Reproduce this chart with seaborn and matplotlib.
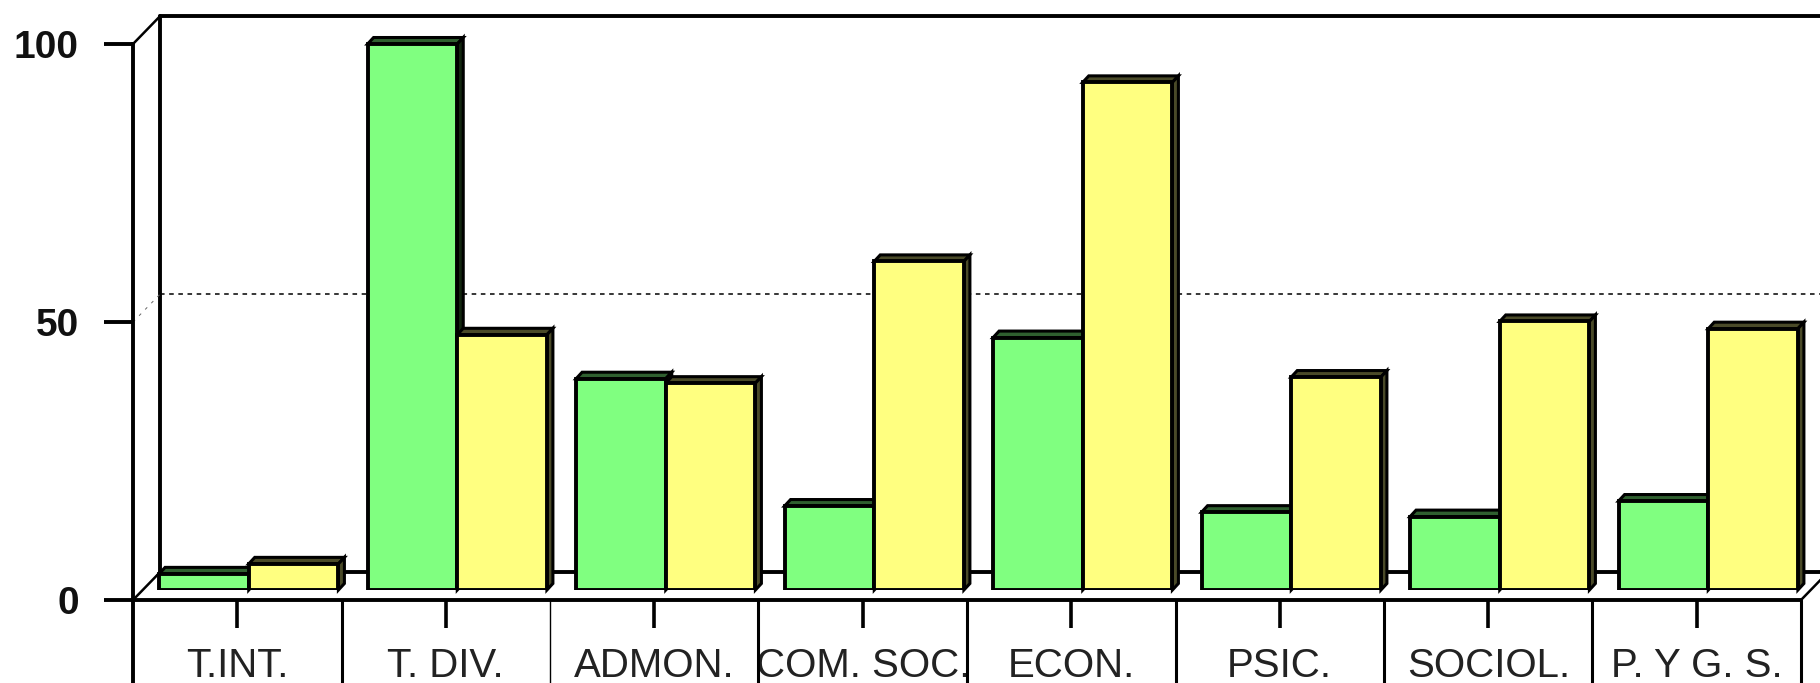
import matplotlib
matplotlib.use("Agg")
import matplotlib.pyplot as plt
import pandas as pd
import seaborn as sns
from matplotlib.patches import Polygon

categories = ["T.INT.", "T. DIV.", "ADMON.", "COM. SOC.", "ECON.", "PSIC.", "SOCIOL.", "P. Y G. S."]
green_values = [2.9, 98.2, 38.0, 15.1, 45.4, 14.0, 13.2, 16.0]
yellow_values = [4.7, 45.9, 37.2, 59.1, 91.3, 38.3, 48.3, 47.0]
series_names = ["A", "B"]
y_ticks = [0, 50, 100]

W, H = 1820, 683
GREEN = "#80FF80"
YELLOW = "#FFFF80"

sns.set_theme(style="white")
plt.rcParams["font.family"] = ["Liberation Sans", "DejaVu Sans"]

df = pd.DataFrame({
    "cat": categories * 2,
    "serie": [series_names[0]] * 8 + [series_names[1]] * 8,
    "val": green_values + yellow_values,
})

fig = plt.figure(figsize=(W / 100, H / 100), dpi=100, facecolor="white")


def box(left, right, top, bottom):
    return [left / W, (H - bottom) / H, (right - left) / W, (bottom - top) / H]


# front axis with the ticks and labels, walls of the box behind the bars
ax = fig.add_axes(box(133, 1801, 44, 600))
ax.set_xlim(-0.5, 7.5)
ax.set_ylim(0, 100)
ax.patch.set_alpha(0)
for s in ["top", "right"]:
    ax.spines[s].set_visible(False)
for s in ["left", "bottom"]:
    ax.spines[s].set_color("black")
    ax.spines[s].set_linewidth(2.8)

ax.set_yticks(y_ticks)
ax.set_yticklabels([str(t) for t in y_ticks], fontsize=28, fontweight="bold", color="#111111")
ax.tick_params(axis="y", left=True, length=21, width=2.8, color="black", pad=18)
ax.set_xticks(range(8))
ax.set_xticklabels(categories, fontsize=29, color="#222222")
ax.set_xticks([i - 0.5 for i in range(1, 9)], minor=True)
ax.tick_params(axis="x", which="major", bottom=True, length=20, width=2.6, color="black", pad=14)
ax.tick_params(axis="x", which="minor", bottom=True, length=62, width=2.2, color="black")
ax.xaxis.get_minor_ticks()[1].tick1line.set_markeredgewidth(1.0)

depth_x = 27 / 208.5
depth_y = 5
lw_wall = 2.8
ax.plot([-0.5, -0.5 + depth_x], [100, 100 + depth_y], color="black", lw=1.8, clip_on=False)
ax.plot([-0.5, -0.5 + depth_x], [0, depth_y], color="black", lw=1.8, clip_on=False)
ax.plot([7.5, 7.5 + depth_x], [0, depth_y], color="black", lw=1.8, clip_on=False)
ax.plot([-0.5 + depth_x] * 2, [depth_y, 100 + depth_y], color="black", lw=lw_wall, clip_on=False)
ax.plot([-0.5 + depth_x, 7.5 + depth_x], [100 + depth_y] * 2, color="black", lw=lw_wall, clip_on=False)
ax.plot([-0.5 + depth_x, 7.5 + depth_x], [depth_y] * 2, color="black", lw=lw_wall, clip_on=False)
ax.plot([-0.5 + depth_x, 7.5 + depth_x], [50 + depth_y] * 2, color="black", lw=1.1, ls=(0, (3, 3)), clip_on=False)
ax.plot([-0.5, -0.5 + depth_x], [50, 50 + depth_y], color="#666666", lw=0.7, ls=(0, (3, 6)), clip_on=False)
# the left axis carries on under the baseline
ax.plot([-0.5, -0.5], [0, -15], color="black", lw=2.8, clip_on=False)

# bars sit a little further back than the front axis
ax_bars = fig.add_axes(box(144.5, 1812.5, 34, 590))
ax_bars.patch.set_alpha(0)
sns.barplot(
    data=df, x="cat", y="val", hue="serie", order=categories, hue_order=series_names,
    palette=[GREEN, YELLOW], width=0.86, gap=0, dodge=True, edgecolor="black",
    linewidth=2.8, saturation=1, legend=False, errorbar=None, ax=ax_bars, zorder=3,
)
ax_bars.set_xlim(-0.5, 7.5)
ax_bars.set_ylim(0, 100)
ax_bars.axis("off")

off_x = 6 / 208.5
off_y = 6.5 / 5.56
top_colors = {GREEN: "#2F5F2F", YELLOW: "#4A4A28"}
side_colors = {GREEN: "#12260F", YELLOW: "#4A4A28"}
for i, p in enumerate(ax_bars.patches[:16]):
    x0, x1 = p.get_x(), p.get_x() + p.get_width()
    h = p.get_height()
    col = GREEN if i < 8 else YELLOW
    top = [(x0, h), (x0 + off_x, h + off_y), (x1 + off_x, h + off_y), (x1, h)]
    side = [(x1, 0), (x1 + off_x, off_y), (x1 + off_x, h + off_y), (x1, h)]
    ax_bars.add_patch(Polygon(top, closed=True, fc=top_colors[col], ec="black", lw=2.2, zorder=2, clip_on=False))
    ax_bars.add_patch(Polygon(side, closed=True, fc=side_colors[col], ec="black", lw=2.2, zorder=2, clip_on=False))

fig.savefig("out.png", dpi=100)
